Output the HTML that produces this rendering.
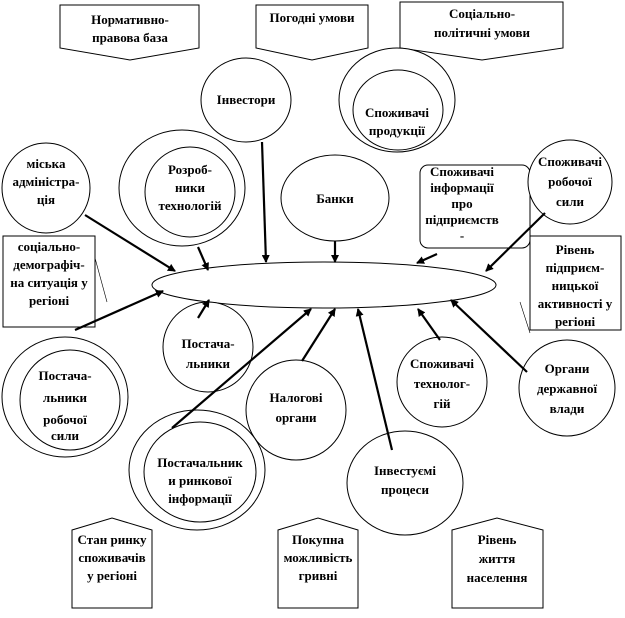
<!DOCTYPE html>
<html><head><meta charset="utf-8"><style>
html,body{margin:0;padding:0;background:#fff}
svg text{font-family:"Liberation Serif",serif;font-weight:bold;font-size:13px;text-anchor:middle;fill:#000}
</style></head><body>
<svg width="625" height="613" viewBox="0 0 625 613" xmlns="http://www.w3.org/2000/svg">
<defs><marker id="a" markerWidth="8" markerHeight="8" refX="7" refY="4" orient="auto" markerUnits="userSpaceOnUse"><path d="M0,0 L8,4 L0,8 Z" fill="#000"/></marker></defs>
<g fill="#fff" stroke="#000" stroke-width="1">
<path d="M60,5 H199 V48 L130,60 L60,48 Z"/>
<path d="M256,5 H368 V48 L312,60 L256,48 Z"/>
<path d="M400,2 H563 V48 L482,60 L400,48 Z"/>
<path d="M72,530 L112,518 L152,530 V608 H72 Z"/>
<path d="M278,530 L318,518 L358,530 V608 H278 Z"/>
<path d="M452,530 L497,518 L543,530 V608 H452 Z"/>
<ellipse cx="246" cy="100" rx="45" ry="42"/>
<ellipse cx="397" cy="100" rx="58" ry="52"/><ellipse cx="398" cy="110" rx="45" ry="40"/>
<ellipse cx="46" cy="188" rx="44" ry="45"/>
<ellipse cx="182" cy="188" rx="63" ry="58"/><ellipse cx="190" cy="192" rx="45" ry="45"/>
<ellipse cx="335" cy="198" rx="54" ry="43"/>
<rect x="420" y="165" width="110" height="83" rx="8"/>
<ellipse cx="570" cy="182" rx="42" ry="42"/>
<rect x="3" y="236" width="92" height="91"/>
<rect x="530" y="236" width="91" height="94"/>
<ellipse cx="324" cy="285" rx="172" ry="23"/>
<ellipse cx="208" cy="347" rx="45" ry="45"/>
<ellipse cx="65" cy="397" rx="63" ry="60"/><ellipse cx="70" cy="400" rx="50" ry="50"/>
<ellipse cx="296" cy="410" rx="50" ry="50"/>
<ellipse cx="442" cy="382" rx="45" ry="45"/>
<ellipse cx="567" cy="388" rx="48" ry="48"/>
<ellipse cx="197" cy="470" rx="68" ry="60"/><ellipse cx="200" cy="472" rx="56" ry="50"/>
<ellipse cx="405" cy="483" rx="58" ry="52"/>
</g>
<g stroke="#000" stroke-width="2.2" marker-end="url(#a)">
<line x1="85" y1="215" x2="175" y2="271"/>
<line x1="198" y1="247" x2="208" y2="270"/>
<line x1="262" y1="142" x2="266" y2="262"/>
<line x1="335" y1="241" x2="335" y2="262"/>
<line x1="437" y1="254" x2="417" y2="263"/>
<line x1="545" y1="213" x2="486" y2="271"/>
<line x1="75" y1="330" x2="163" y2="291"/>
<line x1="198" y1="318" x2="209" y2="300"/>
<line x1="172" y1="428" x2="311" y2="309"/>
<line x1="302" y1="361" x2="335" y2="309"/>
<line x1="392" y1="450" x2="358" y2="309"/>
<line x1="440" y1="340" x2="418" y2="309"/>
<line x1="527" y1="372" x2="451" y2="300"/>
</g>
<g stroke="#000" stroke-width="0.6"><line x1="95" y1="258" x2="107" y2="302"/><line x1="520" y1="302" x2="530" y2="333"/></g>
<text x="130" y="24">Нормативно-</text><text x="130" y="42">правова база</text>
<text x="312" y="22">Погодні умови</text>
<text x="482" y="18">Соціально-</text><text x="482" y="37">політичні умови</text>
<text x="246" y="104">Інвестори</text>
<text x="397" y="117" font-size="15">Споживачі</text><text x="397" y="135">продукції</text>
<text x="46" y="168">міська</text><text x="46" y="186">адміністра-</text><text x="46" y="204">ція</text>
<text x="190" y="174">Розроб-</text><text x="190" y="192">ники</text><text x="190" y="210">технологій</text>
<text x="335" y="203">Банки</text>
<text x="462" y="176">Споживачі</text><text x="462" y="192">інформації</text><text x="462" y="208">про</text><text x="462" y="224">підприємств</text><text x="462" y="240">-</text>
<text x="570" y="166">Споживачі</text><text x="570" y="186">робочої</text><text x="570" y="206">сили</text>
<text x="49" y="251">соціально-</text><text x="49" y="269">демографіч-</text><text x="49" y="287">на ситуація у</text><text x="49" y="305">регіоні</text>
<text x="575" y="254">Рівень</text><text x="575" y="272">підприєм-</text><text x="575" y="290">ницької</text><text x="575" y="308">активності у</text><text x="575" y="326">регіоні</text>
<text x="208" y="348">Постача-</text><text x="208" y="368">льники</text>
<text x="65" y="380" font-size="15">Постача-</text><text x="65" y="402" font-size="15">льники</text><text x="65" y="424" font-size="15">робочої</text><text x="65" y="440">сили</text>
<text x="296" y="402">Налогові</text><text x="296" y="422">органи</text>
<text x="442" y="368">Споживачі</text><text x="442" y="388">технолог-</text><text x="442" y="408">гій</text>
<text x="567" y="373">Органи</text><text x="567" y="393">державної</text><text x="567" y="413">влади</text>
<text x="200" y="467">Постачальник</text><text x="200" y="485">и ринкової</text><text x="200" y="503">інформації</text>
<text x="405" y="475">Інвестуємі</text><text x="405" y="494">процеси</text>
<text x="112" y="544">Стан ринку</text><text x="112" y="562">споживачів</text><text x="112" y="580">у регіоні</text>
<text x="318" y="544">Покупна</text><text x="318" y="562">можливість</text><text x="318" y="580">гривні</text>
<text x="497" y="544">Рівень</text><text x="497" y="563">життя</text><text x="497" y="582">населення</text>
</svg>
</body></html>
